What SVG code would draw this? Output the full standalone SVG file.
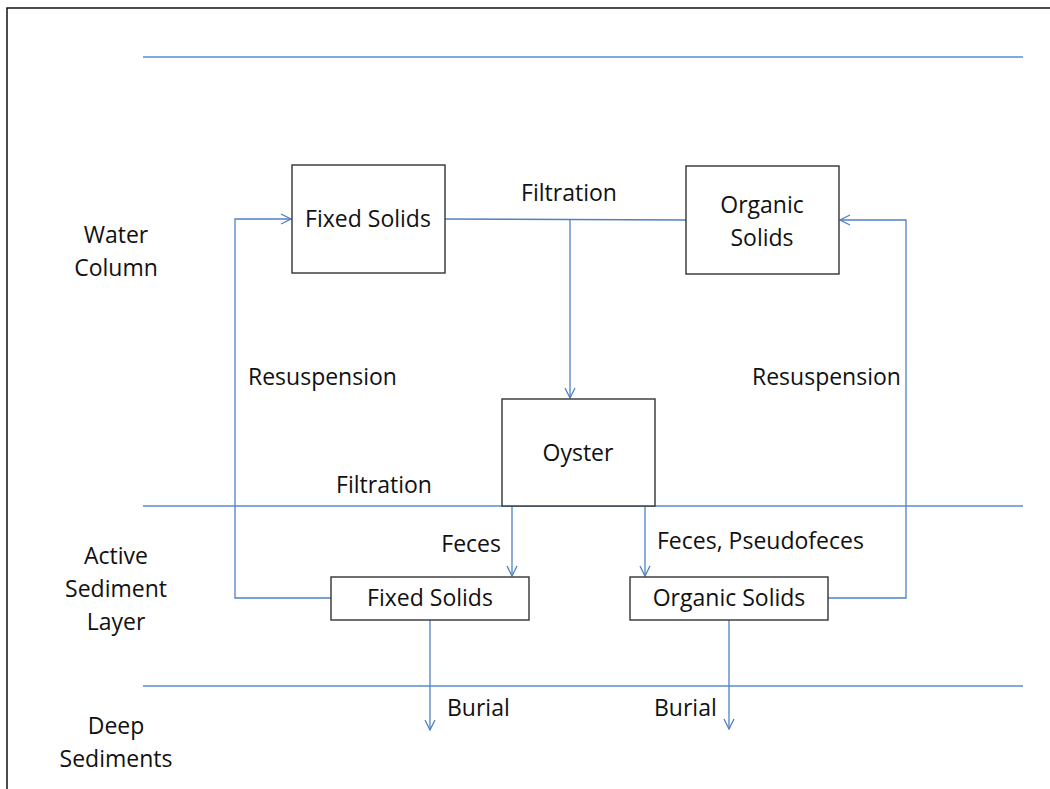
<svg xmlns="http://www.w3.org/2000/svg" width="1050" height="789" viewBox="0 0 1050 789">
<defs>
<marker id="arr" viewBox="0 0 12 12" refX="11" refY="6" markerWidth="12" markerHeight="12" markerUnits="userSpaceOnUse" orient="auto">
<path d="M1,1 L11,6 L1,11" fill="none" stroke="#4f81c4" stroke-width="1.3"/>
</marker>
<style>
.t{font-family:"Open Sans","Liberation Sans",sans-serif;font-size:23px;fill:#111;}
.m{text-anchor:middle;}
.box{fill:#fff;stroke:#333;stroke-width:1.4;}
.ln{fill:none;stroke:#4f81c4;stroke-width:1.3;}
.lay{stroke:#5a8ccc;stroke-width:1.4;}
</style>
</defs>
<rect x="0" y="0" width="1050" height="789" fill="#fff"/>
<rect x="7" y="8" width="1100" height="900" fill="none" stroke="#000" stroke-width="1.4"/>
<g id="layers">
<line class="lay" x1="143" y1="57" x2="1023" y2="57"/>
<line class="lay" x1="143" y1="506" x2="1023" y2="506"/>
<line class="lay" x1="143" y1="686" x2="1023" y2="686"/>
<text class="t m" x="116" y="243">Water</text>
<text class="t m" x="116" y="276">Column</text>
<text class="t m" x="116" y="564">Active</text>
<text class="t m" x="116" y="597">Sediment</text>
<text class="t m" x="116" y="630">Layer</text>
<text class="t m" x="116" y="734">Deep</text>
<text class="t m" x="116" y="767">Sediments</text>
</g>
<g id="connectors">
<path class="ln" d="M445,219 L686,220"/>
<path class="ln" d="M570,219 L570,398" marker-end="url(#arr)"/>
<path class="ln" d="M331,598 L235,598 L235,219 L291,219" marker-end="url(#arr)"/>
<path class="ln" d="M828,598 L906,598 L906,220 L840,220" marker-end="url(#arr)"/>
<path class="ln" d="M512,505 L512,576" marker-end="url(#arr)"/>
<path class="ln" d="M645,505 L645,576" marker-end="url(#arr)"/>
<path class="ln" d="M430,620 L430,730" marker-end="url(#arr)"/>
<path class="ln" d="M729,620 L729,729" marker-end="url(#arr)"/>
<text class="t m" x="569" y="201">Filtration</text>
<text class="t" x="248" y="385">Resuspension</text>
<text class="t" x="752" y="385">Resuspension</text>
<text class="t m" x="384" y="493">Filtration</text>
<text class="t" x="501" y="552" text-anchor="end">Feces</text>
<text class="t" x="657" y="549">Feces, Pseudofeces</text>
<text class="t" x="447" y="716">Burial</text>
<text class="t" x="654" y="716">Burial</text>
</g>
<g id="fixed-solids-top">
<rect class="box" x="292" y="165" width="153" height="108"/>
<text class="t m" x="368" y="227">Fixed Solids</text>
</g>
<g id="organic-solids-top">
<rect class="box" x="686" y="166" width="153" height="108"/>
<text class="t m" x="762" y="213">Organic</text>
<text class="t m" x="762" y="246">Solids</text>
</g>
<g id="oyster">
<rect class="box" x="502" y="399" width="153" height="107"/>
<text class="t m" x="578" y="461">Oyster</text>
</g>
<g id="fixed-solids-bottom">
<rect class="box" x="331" y="577" width="198" height="43"/>
<text class="t m" x="430" y="606">Fixed Solids</text>
</g>
<g id="organic-solids-bottom">
<rect class="box" x="630" y="577" width="198" height="43"/>
<text class="t m" x="729" y="606">Organic Solids</text>
</g>
</svg>
